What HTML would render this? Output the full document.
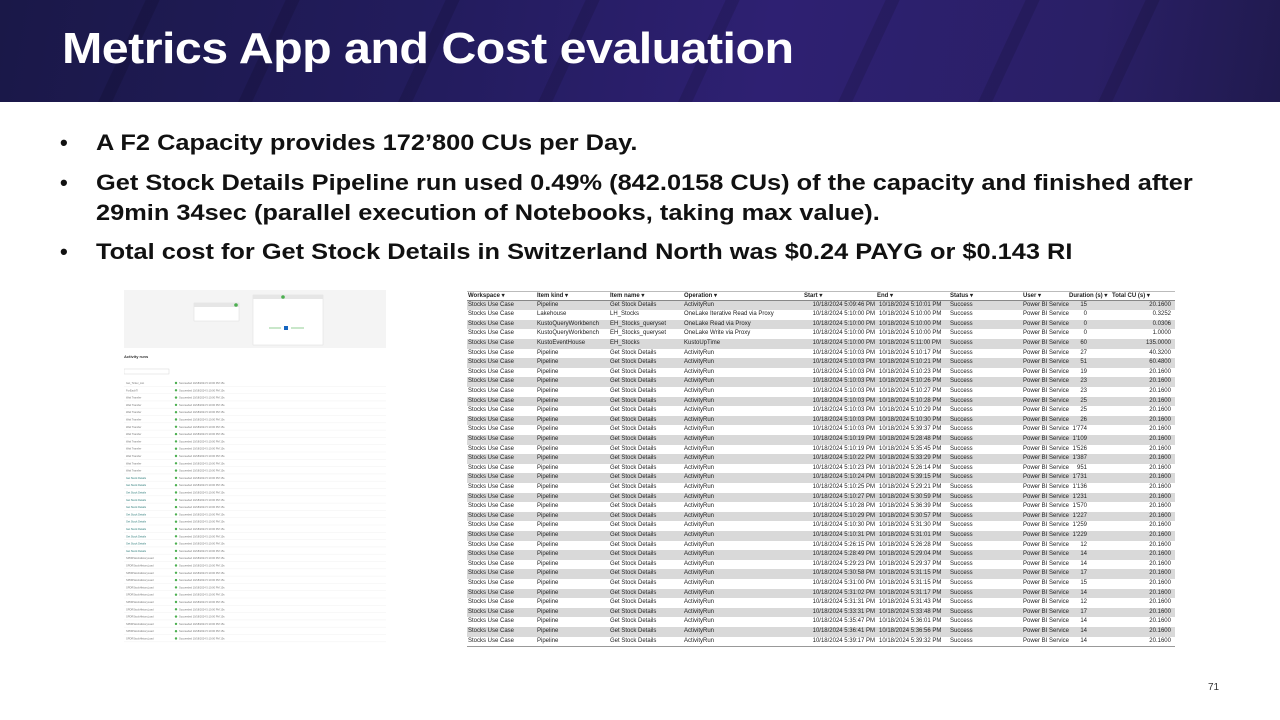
<!DOCTYPE html>
<html><head><meta charset="utf-8">
<style>
*{margin:0;padding:0;box-sizing:border-box}
body{width:1280px;height:720px;background:#fff;position:relative;overflow:hidden;font-family:"Liberation Sans",sans-serif}
#banner{position:absolute;left:0;top:0;width:1280px;height:102px;background:linear-gradient(100deg,#1a1848 0%,#231c5e 35%,#2e2072 60%,#2a1f66 85%,#201a4e 100%);overflow:hidden}
#banner .stripe{position:absolute;top:-20px;width:14px;height:150px;background:rgba(0,0,0,0.12);transform:skewX(-25deg)}
#title{position:absolute;left:62px;top:24px;color:#fff;font-weight:bold;font-size:44px;letter-spacing:-0.5px;white-space:nowrap;transform:scaleX(1.10);transform-origin:0 0}
.bullet{position:absolute;left:60px;font-size:22px;font-weight:bold;color:#111;white-space:nowrap;line-height:30px}
.bullet span.b{position:absolute;left:0}
.bullet span.t{position:absolute;left:36px;transform:scaleX(1.153);transform-origin:0 0}
#shot{position:absolute;left:124px;top:290px;width:262px;height:356px;background:#fff}
#tbl{position:absolute;left:467px;top:291px;width:708px;font-size:6px;color:#222}
.row{position:absolute;left:0;width:708px;height:9.6px;line-height:9.6px;white-space:nowrap}
.row.alt{background:#d9d9d9}
.row.hdr{font-weight:bold;border-bottom:1px solid #888;border-top:1px solid #bbb}
.c{position:absolute;top:0}
.r{text-align:right}
#pg{position:absolute;left:1208px;top:682px;font-size:10px;color:#333}
</style></head><body>
<div id="banner">
<div class="stripe" style="left:120px"></div><div class="stripe" style="left:260px"></div><div class="stripe" style="left:420px"></div><div class="stripe" style="left:560px"></div><div class="stripe" style="left:700px"></div><div class="stripe" style="left:860px"></div><div class="stripe" style="left:1000px"></div><div class="stripe" style="left:1120px"></div>
<div id="title">Metrics App and Cost evaluation</div>
</div>
<div class="bullet" style="top:128px"><span class="b">•</span><span class="t">A F2 Capacity provides 172’800 CUs per Day.</span></div>
<div class="bullet" style="top:168px"><span class="b">•</span><span class="t">Get Stock Details Pipeline run used 0.49% (842.0158 CUs) of the capacity and finished after</span></div>
<div class="bullet" style="top:198px"><span class="t">29min 34sec (parallel execution of Notebooks, taking max value).</span></div>
<div class="bullet" style="top:237px"><span class="b">•</span><span class="t">Total cost for Get Stock Details in Switzerland North was $0.24 PAYG or $0.143 RI</span></div>

<svg id="shot" width="262" height="356" viewBox="0 0 262 356">
<rect x="0" y="0" width="262" height="58" fill="#f4f4f4"/>
<rect x="70" y="13" width="45" height="18" fill="#fff" stroke="#ddd" stroke-width="0.5"/>
<rect x="70" y="13" width="45" height="4" fill="#e6e6e6"/>
<circle cx="112" cy="15" r="1.8" fill="#4caf50"/>
<rect x="129" y="5" width="70" height="50" fill="#fff" stroke="#ddd" stroke-width="0.5"/>
<rect x="129" y="5" width="70" height="4" fill="#e6e6e6"/>
<circle cx="159" cy="7" r="1.8" fill="#4caf50"/>
<rect x="160" y="36" width="4" height="4" fill="#1565c0"/>
<line x1="145" y1="38" x2="157" y2="38" stroke="#4caf50" stroke-width="0.6"/>
<line x1="167" y1="38" x2="180" y2="38" stroke="#4caf50" stroke-width="0.6"/>
<text x="0" y="68" font-size="4" font-weight="bold" fill="#333">Activity runs</text>
<rect x="0" y="79" width="45" height="5" fill="none" stroke="#ccc" stroke-width="0.4"/>
<g id="shotRows"></g>
</svg>

<div id="tbl"></div>
<div id="pg">71</div>

<script>
const headers=["Workspace","Item kind","Item name","Operation","Start","End","Status","User","Duration (s)","Total CU (s)"];
const kinds=["Pipeline","Lakehouse","KustoQueryWorkbench","KustoQueryWorkbench","KustoEventHouse"];
const names=["Get Stock Details","LH_Stocks","EH_Stocks_queryset","EH_Stocks_queryset","EH_Stocks"];
const ops=["ActivityRun","OneLake Iterative Read via Proxy","OneLake Read via Proxy","OneLake Write via Proxy","KustoUpTime"];
const starts=["5:09:46","5:10:00","5:10:00","5:10:00","5:10:00","5:10:03","5:10:03","5:10:03","5:10:03","5:10:03","5:10:03","5:10:03","5:10:03","5:10:03","5:10:19","5:10:19","5:10:22","5:10:23","5:10:24","5:10:25","5:10:27","5:10:28","5:10:29","5:10:30","5:10:31","5:26:15","5:28:49","5:29:23","5:30:58","5:31:00","5:31:02","5:31:31","5:33:31","5:35:47","5:36:41","5:39:17"];
const ends=["5:10:01","5:10:00","5:10:00","5:10:00","5:11:00","5:10:17","5:10:21","5:10:23","5:10:26","5:10:27","5:10:28","5:10:29","5:10:30","5:39:37","5:28:48","5:35:45","5:33:29","5:26:14","5:39:15","5:29:21","5:30:59","5:36:39","5:30:57","5:31:30","5:31:01","5:26:28","5:29:04","5:29:37","5:31:15","5:31:15","5:31:17","5:31:43","5:33:48","5:36:01","5:36:56","5:39:32"];
const durations=["15","0","0","0","60","27","51","19","23","23","25","25","26","1'774","1'109","1'526","1'387","951","1'731","1'136","1'231","1'570","1'227","1'259","1'229","12","14","14","17","15","14","12","17","14","14","14"];
const totalCU=["20.1600","0.3252","0.0306","1.0000","135.0000","40.3200","60.4800","20.1600","20.1600","20.1600","20.1600","20.1600","20.1600","20.1600","20.1600","20.1600","20.1600","20.1600","20.1600","20.1600","20.1600","20.1600","20.1600","20.1600","20.1600","20.1600","20.1600","20.1600","20.1600","20.1600","20.1600","20.1600","20.1600","20.1600","20.1600","20.1600"];

const tbl=document.getElementById('tbl');
function cell(row,text,x,w,right){
  const d=document.createElement('div');
  d.className='c'+(right?' r':'');
  d.style.left=x+'px'; if(w) d.style.width=w+'px';
  d.textContent=text; row.appendChild(d);
}
const hdr=document.createElement('div');


hdr.className='row hdr';hdr.style.top='0px';
[1,70,143,217,337,410,483,556,602,645].forEach((x,i)=>cell(hdr,headers[i]+(i<8?'  ▾':' ▾'),x,null,false));
tbl.appendChild(hdr);
for(let i=0;i<starts.length;i++){
  const k=i<5?i:0;
  const r=document.createElement('div');
  
  
  r.className='row'+(i%2===0?' alt':'');
  r.style.top=(9.6*(i+1))+'px';
  cell(r,'Stocks Use Case',1);
  cell(r,kinds[k],70);
  cell(r,names[k],143);
  cell(r,ops[k],217);
  cell(r,'10/18/2024 '+starts[i]+' PM',288,120,true);
  cell(r,'10/18/2024 '+ends[i]+' PM',412);
  cell(r,'Success',483);
  cell(r,'Power BI Service',556);
  cell(r,durations[i],580,40,true);
  cell(r,totalCU[i],640,64,true);
  tbl.appendChild(r);
}
const bot=document.createElement('div');


bot.style.cssText='position:absolute;left:0;width:708px;height:1px;background:#999;top:'+(9.6*37)+'px';
tbl.appendChild(bot);

const g=document.getElementById('shotRows');
const ns='http://www.w3.org/2000/svg';
for(let i=0;i<36;i++){
  const y=94+i*7.3;
  const t=document.createElementNS(ns,'text');
  
  
  t.setAttribute('x','2');t.setAttribute('y',y);t.setAttribute('font-size','2.6');
  t.setAttribute('fill',i>=13&&i<24?'#2b7a78':'#777');
  t.textContent=(i<2?(i?'ForEachTI':'Get_Ticker_List'):(i<13?'Wait Transfer':(i<24?'Get Stock Details':'SPDRStockHistoryLoad')));
  g.appendChild(t);
  const c=document.createElementNS(ns,'circle');
  c.setAttribute('cx','52');c.setAttribute('cy',y-1);c.setAttribute('r','1.2');c.setAttribute('fill','#4caf50');
  g.appendChild(c);
  const s=document.createElementNS(ns,'text');
  s.setAttribute('x','55');s.setAttribute('y',y);s.setAttribute('font-size','2.6');s.setAttribute('fill','#777');
  s.textContent='Succeeded              10/18/2024 5:10:00 PM           15s';
  g.appendChild(s);
  const l=document.createElementNS(ns,'line');
  l.setAttribute('x1','0');l.setAttribute('x2','262');l.setAttribute('y1',y+2.3);l.setAttribute('y2',y+2.3);
  l.setAttribute('stroke','#eee');l.setAttribute('stroke-width','0.4');
  g.appendChild(l);
}
</script>
</body></html>
